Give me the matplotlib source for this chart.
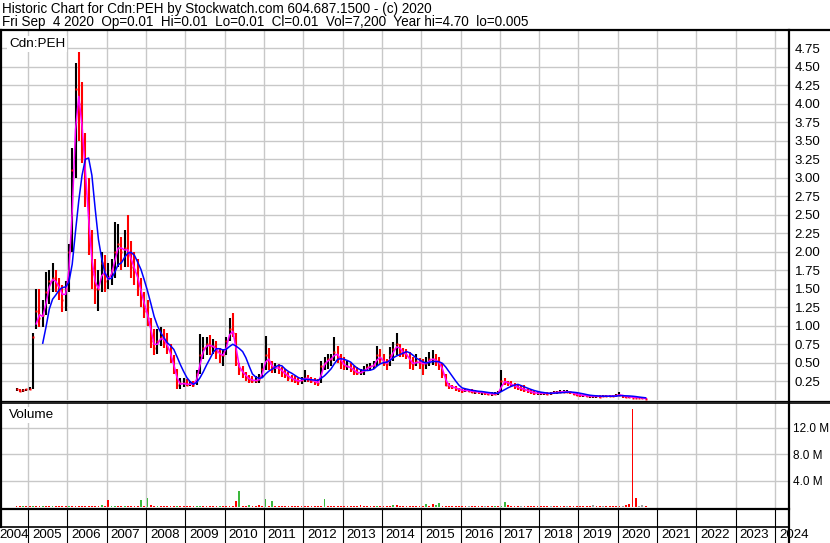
import numpy as np
import pandas as pd
import matplotlib
matplotlib.use("Agg")
import matplotlib.pyplot as plt
from matplotlib.lines import Line2D

plt.rcParams['font.family'] = ['Liberation Sans', 'DejaVu Sans']

# monthly bars, first month Sep 2004
first_month = "2004-09"
low = [0.12, 0.10, 0.11, 0.12,
       0.13, 0.15, 0.95, 0.98, 0.98, 1.15, 1.30, 1.45, 1.45, 1.35, 1.18, 1.20,
       1.45, 2.00, 3.00, 3.50, 3.20, 2.60, 1.95, 1.50, 1.30, 1.20, 1.45, 1.45,
       1.50, 1.55, 1.65, 1.80, 1.75, 1.80, 1.80, 1.65, 1.55, 1.40, 1.25, 1.10,
       1.00, 0.70, 0.60, 0.62, 0.72, 0.70, 0.62, 0.50, 0.35, 0.15, 0.15, 0.17,
       0.18, 0.18, 0.17, 0.20, 0.35, 0.55, 0.60, 0.60, 0.62, 0.55, 0.50, 0.45,
       0.60, 0.80, 0.85, 0.45, 0.33, 0.30, 0.26, 0.22, 0.22, 0.22, 0.22, 0.30,
       0.40, 0.40, 0.36, 0.36, 0.35, 0.31, 0.30, 0.26, 0.24, 0.22, 0.20, 0.21,
       0.24, 0.24, 0.22, 0.20, 0.18, 0.22, 0.40, 0.42, 0.45, 0.53, 0.50, 0.42,
       0.40, 0.40, 0.38, 0.33, 0.33, 0.33, 0.33, 0.40, 0.40, 0.42, 0.45, 0.48,
       0.45, 0.40, 0.45, 0.53, 0.60, 0.58, 0.58, 0.55, 0.42, 0.40, 0.45, 0.42,
       0.33, 0.42, 0.45, 0.47, 0.45, 0.40, 0.30, 0.18, 0.15, 0.14, 0.12, 0.11,
       0.09, 0.10, 0.10, 0.09, 0.08, 0.08, 0.07, 0.07, 0.06, 0.05, 0.06, 0.06,
       0.10, 0.20, 0.18, 0.18, 0.15, 0.13, 0.12, 0.10, 0.09, 0.08, 0.07, 0.07,
       0.07, 0.07, 0.06, 0.07, 0.08, 0.08, 0.09, 0.09, 0.09, 0.08, 0.06, 0.05,
       0.04, 0.04, 0.04, 0.03, 0.03, 0.03, 0.03, 0.04, 0.04, 0.04, 0.04, 0.04,
       0.05, 0.03, 0.03, 0.03, 0.02, 0.02, 0.02, 0.015, 0.005]
high = [0.16, 0.14, 0.14, 0.15,
        0.17, 0.90, 1.50, 1.50, 1.35, 1.72, 1.75, 1.85, 1.75, 1.65, 1.55, 1.60,
        2.10, 3.40, 4.55, 4.70, 4.30, 3.60, 3.00, 2.30, 1.90, 1.75, 2.00, 1.95,
        1.85, 1.90, 2.40, 2.38, 2.20, 2.30, 2.50, 2.15, 2.00, 1.90, 1.65, 1.45,
        1.35, 1.10, 0.95, 0.95, 0.98, 0.95, 0.90, 0.75, 0.60, 0.42, 0.30, 0.30,
        0.28, 0.26, 0.25, 0.40, 0.89, 0.85, 0.85, 0.88, 0.82, 0.80, 0.70, 0.68,
        0.85, 1.10, 1.17, 0.90, 0.50, 0.45, 0.38, 0.33, 0.32, 0.32, 0.35, 0.50,
        0.86, 0.70, 0.53, 0.50, 0.48, 0.44, 0.42, 0.38, 0.34, 0.32, 0.30, 0.31,
        0.40, 0.34, 0.31, 0.29, 0.28, 0.53, 0.58, 0.62, 0.62, 0.85, 0.72, 0.62,
        0.58, 0.53, 0.50, 0.45, 0.44, 0.42, 0.45, 0.49, 0.50, 0.52, 0.73, 0.68,
        0.62, 0.55, 0.71, 0.78, 0.90, 0.75, 0.70, 0.68, 0.65, 0.58, 0.62, 0.56,
        0.55, 0.58, 0.65, 0.67, 0.62, 0.58, 0.50, 0.35, 0.22, 0.20, 0.18, 0.16,
        0.15, 0.15, 0.15, 0.14, 0.13, 0.12, 0.12, 0.11, 0.10, 0.10, 0.10, 0.12,
        0.40, 0.30, 0.26, 0.25, 0.22, 0.20, 0.18, 0.20, 0.15, 0.14, 0.12, 0.12,
        0.11, 0.11, 0.10, 0.11, 0.12, 0.12, 0.13, 0.13, 0.13, 0.12, 0.10, 0.09,
        0.08, 0.07, 0.07, 0.07, 0.06, 0.06, 0.06, 0.06, 0.06, 0.06, 0.06, 0.08,
        0.10, 0.07, 0.05, 0.05, 0.05, 0.04, 0.04, 0.03, 0.02]
close = [0.14, 0.12, 0.13, 0.14,
         0.15, 0.85, 1.20, 1.10, 1.15, 1.45, 1.60, 1.65, 1.55, 1.50, 1.35, 1.50,
         2.00, 3.10, 4.20, 4.00, 3.40, 2.80, 2.10, 1.70, 1.50, 1.50, 1.85, 1.60,
         1.65, 1.75, 2.00, 2.10, 2.00, 2.05, 2.00, 1.80, 1.75, 1.55, 1.40, 1.20,
         1.10, 0.80, 0.70, 0.80, 0.85, 0.78, 0.70, 0.55, 0.40, 0.20, 0.22, 0.22,
         0.20, 0.22, 0.20, 0.35, 0.60, 0.70, 0.75, 0.72, 0.72, 0.65, 0.60, 0.60,
         0.80, 0.95, 0.90, 0.50, 0.40, 0.36, 0.30, 0.27, 0.26, 0.26, 0.28, 0.42,
         0.60, 0.50, 0.42, 0.44, 0.42, 0.37, 0.34, 0.30, 0.28, 0.26, 0.25, 0.27,
         0.30, 0.28, 0.26, 0.24, 0.22, 0.45, 0.50, 0.55, 0.55, 0.65, 0.58, 0.50,
         0.45, 0.45, 0.42, 0.38, 0.36, 0.37, 0.40, 0.44, 0.45, 0.47, 0.60, 0.55,
         0.50, 0.48, 0.60, 0.68, 0.75, 0.65, 0.63, 0.60, 0.50, 0.48, 0.52, 0.50,
         0.48, 0.50, 0.55, 0.55, 0.52, 0.48, 0.35, 0.20, 0.18, 0.17, 0.15, 0.14,
         0.12, 0.13, 0.12, 0.11, 0.11, 0.10, 0.10, 0.09, 0.08, 0.08, 0.08, 0.10,
         0.25, 0.24, 0.22, 0.20, 0.18, 0.16, 0.15, 0.13, 0.12, 0.10, 0.09, 0.09,
         0.09, 0.09, 0.08, 0.09, 0.10, 0.10, 0.11, 0.11, 0.11, 0.10, 0.08, 0.07,
         0.06, 0.06, 0.05, 0.05, 0.05, 0.05, 0.04, 0.05, 0.05, 0.05, 0.05, 0.06,
         0.07, 0.05, 0.04, 0.04, 0.03, 0.03, 0.03, 0.02, 0.01]
# biggest daily volume in each month, millions of shares
volume = [0.12, 0.12, 0.12, 0.12,
          0.12, 0.20, 0.15, 0.12, 0.12, 0.15, 0.12, 0.12, 0.12, 0.12, 0.12, 0.12,
          0.15, 0.15, 0.15, 0.12, 0.12, 0.12, 0.12, 0.12, 0.12, 0.12, 0.30, 0.15,
          1.05, 0.20, 0.20, 0.15, 0.15, 0.15, 0.15, 0.15, 0.12, 0.15, 1.05, 0.15,
          1.40, 0.30, 0.15, 0.12, 0.12, 0.12, 0.12, 0.12, 0.12, 0.20, 0.12, 0.12,
          0.12, 0.12, 0.12, 0.12, 0.12, 0.12, 0.15, 0.12, 0.12, 0.12, 0.12, 0.12,
          0.12, 0.15, 0.15, 0.95, 2.45, 0.15, 0.12, 0.35, 0.12, 0.12, 0.25, 0.12,
          1.25, 0.15, 0.90, 0.15, 0.12, 0.12, 0.12, 0.12, 0.12, 0.12, 0.12, 0.12,
          0.12, 0.12, 0.12, 0.12, 0.12, 0.12, 1.25, 0.15, 0.12, 0.12, 0.12, 0.12,
          0.12, 0.12, 0.12, 0.12, 0.15, 0.25, 0.15, 0.12, 0.12, 0.12, 0.15, 0.15,
          0.12, 0.12, 0.15, 0.25, 0.25, 0.15, 0.12, 0.12, 0.12, 0.12, 0.12, 0.12,
          0.12, 0.45, 0.15, 0.45, 0.35, 0.55, 0.15, 0.12, 0.12, 0.12, 0.12, 0.12,
          0.12, 0.12, 0.15, 0.12, 0.12, 0.15, 0.12, 0.12, 0.12, 0.12, 0.12, 0.12,
          0.15, 0.80, 0.30, 0.15, 0.12, 0.12, 0.12, 0.12, 0.12, 0.12, 0.12, 0.12,
          0.12, 0.12, 0.12, 0.12, 0.12, 0.20, 0.12, 0.12, 0.12, 0.12, 0.12, 0.12,
          0.12, 0.12, 0.12, 0.12, 0.25, 0.12, 0.12, 0.12, 0.12, 0.12, 0.12, 0.12,
          0.15, 0.12, 0.25, 0.45, 14.80, 1.40, 0.20, 0.35, 0.12]
# u = up, d = down, n = unchanged (day of the biggest volume)
moves = ("ddud"
         "dudduddudddd"
         "udddddddddud"
         "duudduddddud"
         "uddudddddudd"
         "ddduudddddud"
         "dddduddudddd"
         "ududdddddddd"
         "dddddduddddd"
         "ddddddddddud"
         "dddudddddddd"
         "dudduudddddd"
         "ddnddddnddud"
         "uuddddnddddd"
         "dddnddddnddd"
         "ddddnddndddd"
         "dnddddnnd")

header1 = "Historic Chart for Cdn:PEH by Stockwatch.com 604.687.1500 - (c) 2020"
header2 = "Fri Sep  4 2020  Op=0.01  Hi=0.01  Lo=0.01  Cl=0.01  Vol=7,200  Year hi=4.70  lo=0.005"
symbol = "Cdn:PEH"
price_ticks = [0.25, 0.5, 0.75, 1.0, 1.25, 1.5, 1.75, 2.0, 2.25, 2.5, 2.75, 3.0,
               3.25, 3.5, 3.75, 4.0, 4.25, 4.5, 4.75]
vol_ticks = [4, 8, 12]
years = list(range(2004, 2025))

# ---- layout in pixels
W, H = 830, 543
def fx(px):
    return px / W
def fy(py):
    return 1 - py / H

months = pd.period_range(first_month, periods=len(close), freq="M")
x = np.array([m.year + (m.month - 0.5) / 12 for m in months])
c = pd.Series(close)
ma_fast = c.rolling(2).mean()
ma_slow = c.rolling(6).mean()

fig = plt.figure(figsize=(8.3, 5.43), dpi=100)
fig.patch.set_facecolor("white")
x0, x1 = 2004.339, 2024.354

# price panel
ax = fig.add_axes([fx(2), fy(400), fx(789) - fx(2), fy(31) - fy(400)])
ax.set_xlim(x0, x1)
ax.set_ylim(-0.003, 4.983)
ax.set_xticks(years[1:])
ax.set_xticklabels([])
ax.set_yticks(price_ticks)
ax.set_yticklabels([f"{t:.2f}" for t in price_ticks])
ax.yaxis.tick_right()
ax.tick_params(length=0, labelsize=9.5, pad=4)
ax.grid(True, color="#c8c8c8", lw=1.0)
ax.set_axisbelow(True)
for s in ax.spines.values():
    s.set_visible(False)

up = [True] + [close[i] >= close[i - 1] for i in range(1, len(close))]
bar_col = ["black" if u else "red" for u in up]
ax.vlines(x, low, high, colors=bar_col, lw=1.5, zorder=2)
ax.plot(x, close, "s", ms=1.8, color="red", mec="none", zorder=3)
ax.plot(x[6:], ma_fast[6:], color="#ff00ff", lw=1.1, zorder=4)
ax.plot(x[8:], ma_slow[8:], color="#0000ff", lw=1.1, zorder=5)
ax.text(0.009, 0.965, symbol, transform=ax.transAxes, fontsize=9.7, va="center",
        ha="left", bbox=dict(facecolor="white", edgecolor="none", pad=1.5))

# volume panel
av = fig.add_axes([fx(2), fy(508), fx(789) - fx(2), fy(403) - fy(508)])
av.set_xlim(x0, x1)
av.set_ylim(-0.15, 15.71)
av.set_xticks(years[1:])
av.set_xticklabels([])
av.set_yticks(vol_ticks)
av.set_yticklabels([f"{t:.1f} M" for t in vol_ticks])
av.yaxis.tick_right()
av.tick_params(length=0, labelsize=8.5, pad=3)
av.grid(True, color="#c8c8c8", lw=1.0)
av.set_axisbelow(True)
for s in av.spines.values():
    s.set_visible(False)
vcol = {"u": "#3cb83c", "d": "#ff0000", "n": "#a0a0a0"}
av.bar(x, volume, width=1.8 / 39.32, color=[vcol[m] for m in moves], lw=0, zorder=2)
av.text(0.009, 0.89, "Volume", transform=av.transAxes, fontsize=9.7, va="center",
        ha="left", bbox=dict(facecolor="white", edgecolor="none", pad=1.5))

# date strip
ad = fig.add_axes([fx(2), fy(543), fx(789) - fx(2), fy(509) - fy(543)])
ad.set_xlim(x0, x1)
ad.set_ylim(543, 509)
ad.axis("off")
for yr in years[1:]:
    ad.axvline(yr, color="black", lw=0.8)
for yr in years:
    ad.text(max(yr + 0.1, x0 - 0.06), 535.5, str(yr), fontsize=9.6, va="center",
            ha="left", clip_on=False)

# frame lines
def fline(xs, ys, lw):
    fig.add_artist(Line2D([fx(v) for v in xs], [fy(v) for v in ys],
                          transform=fig.transFigure, color="black", lw=lw))

fline([0, 830], [30, 30], 1.6)
fline([0, 830], [400.5, 400.5], 0.9)
fline([0, 830], [403, 403], 1.2)
fline([0, 789], [509, 509], 1.6)
fline([0, 789], [527, 527], 1.2)
fline([1, 1], [30, 527], 1.6)
fline([789, 789], [30, 543], 1.6)

fig.text(fx(2), fy(9), header1, fontsize=9.75, va="center", ha="left")
fig.text(fx(2), fy(22), header2, fontsize=9.75, va="center", ha="left")

fig.savefig("out.png", dpi=100, facecolor="white")
